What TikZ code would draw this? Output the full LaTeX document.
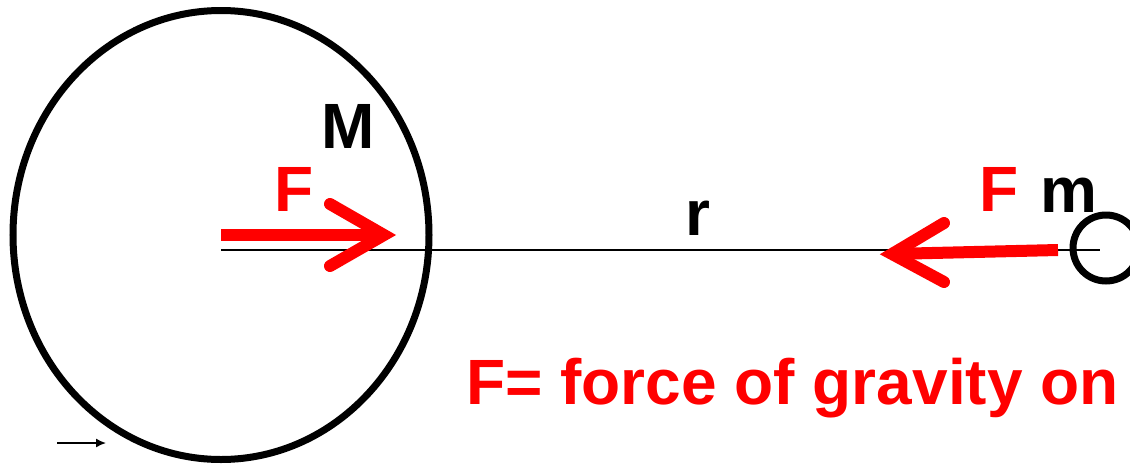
\documentclass[tikz,border=0pt]{standalone}
\usepackage{fontspec}
\setmainfont{Liberation Sans}
\usetikzlibrary{arrows.meta}
\definecolor{fred}{RGB}{255,0,0}
\tikzset{
  lbl/.style={anchor=base west,inner sep=0pt,font=\fontsize{64}{70}\selectfont\bfseries},
  redlbl/.style={lbl,text=fred},
  body/.style={draw=black,line width=7pt},
  force/.style={draw=fred,line width=12pt},
  barb/.style={draw=fred,line width=12pt,line cap=round,line join=miter},
  axis/.style={draw=black,line width=2pt}
}
\begin{document}
\begin{tikzpicture}[x=1pt,y=-1pt]
\useasboundingbox (0,0) rectangle (1130,464);
% big mass
\draw[body] (221,235) ellipse [x radius=208, y radius=224.5];
\coordinate (Mc) at (221,250);
% small mass
\node[circle,body,minimum size=66pt,inner sep=0pt] (msmall) at (1106,248) {};
\coordinate (mc) at (1100,250);
\draw[axis] (Mc) -- (mc);
% left force arrow
\coordinate (lf0) at (221,235);
\coordinate (lf1) at (386,235);
\coordinate (lfa) at (330,204);
\coordinate (lfb) at (330,266);
\draw[force] (lf0) -- (lf1);
\draw[barb] (lfa) -- (384,235) -- (lfb);
% right force arrow
\coordinate (rf0) at (1058,250);
\coordinate (rf1) at (890,254);
\coordinate (rfa) at (944,223);
\coordinate (rfb) at (944,282);
\draw[force] (rf0) -- (rf1);
\draw[barb] (rfa) -- (892,254) -- (rfb);
% labels
\node[lbl] (Mlab) at (321,148) {M};
\node[redlbl] (F1) at (274,211) {F};
\node[redlbl] (F2) at (979,211) {F};
\node[lbl] (rlab) at (685,235) {r};
\node[lbl] (mlab) at (1040,212) {m};
\node[redlbl] (cap) at (466,404) {F= force of gravity on};
% small arrow
\coordinate (sa0) at (57,443);
\coordinate (sa1) at (106,443);
\draw[line width=1.5pt,-{Latex[length=10pt,width=9pt]}] (sa0) -- (sa1);
\end{tikzpicture}
\end{document}
